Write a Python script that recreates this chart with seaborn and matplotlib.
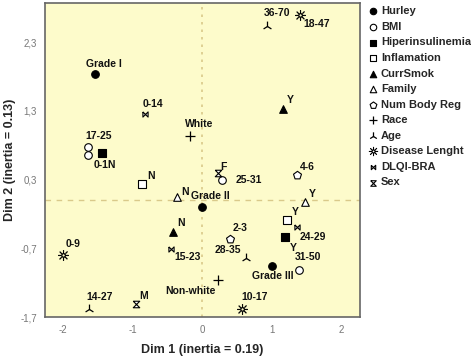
import matplotlib
matplotlib.use('Agg')
import matplotlib.pyplot as plt
import seaborn as sns
import numpy as np
import pandas as pd
from matplotlib.path import Path

# coordenadas de cada categoría (Dim 1, Dim 2) y su rótulo
hurley_x = [-1.54, 0.00, 1.01]
hurley_y = [1.84, -0.10, -0.96]
hurley_lab = ['Grade I', 'Grade II', 'Grade III']

bmi_x = [-1.65, -1.64, 0.29, 1.40]
bmi_y = [0.77, 0.66, 0.30, -1.01]
bmi_lab = ['17-25', '', '25-31', '31-50']

hiper_x = [-1.44, 1.19]
hiper_y = [0.69, -0.53]
hiper_lab = ['0-1N', 'Y']

infl_x = [-0.86, 1.22]
infl_y = [0.23, -0.29]
infl_lab = ['N', 'Y']

smok_x = [-0.42, 1.17]
smok_y = [-0.46, 1.33]
smok_lab = ['N', 'Y']

fam_x = [-0.36, 1.48]
fam_y = [0.04, -0.03]
fam_lab = ['N', 'Y']

body_x = [1.37, 0.40]
body_y = [0.36, -0.57]
body_lab = ['4-6', '2-3']

race_x = [-0.17, 0.23]
race_y = [0.93, -1.16]
race_lab = ['White', 'Non-white']

age_x = [0.94, -1.63, 0.63]
age_y = [2.54, -1.59, -0.84]
age_lab = ['36-70', '14-27', '28-35']

dis_x = [1.41, -2.00, 0.58]
dis_y = [2.70, -0.80, -1.59]
dis_lab = ['18-47', '0-9', '10-17']

dlqi_x = [-0.83, -0.45, 1.37]
dlqi_y = [1.26, -0.71, -0.39]
dlqi_lab = ['0-14', '15-23', '24-29']

sex_x = [0.23, -0.96]
sex_y = [0.40, -1.51]
sex_lab = ['F', 'M']

# marcadores propios
hourglass = Path([(-1, 1), (1, 1), (-1, -1), (1, -1), (-1, 1)])
bowtie = Path([(-1, 1), (-1, -1), (1, 1), (1, -1), (-1, 1)])

groups = [
    ('Hurley', hurley_x, hurley_y, hurley_lab, 'o', 'black', 30),
    ('BMI', bmi_x, bmi_y, bmi_lab, 'o', 'white', 30),
    ('Hiperinsulinemia', hiper_x, hiper_y, hiper_lab, 's', 'black', 30),
    ('Inflamation', infl_x, infl_y, infl_lab, 's', 'white', 30),
    ('CurrSmok', smok_x, smok_y, smok_lab, '^', 'black', 30),
    ('Family', fam_x, fam_y, fam_lab, '^', 'white', 30),
    ('Num Body Reg', body_x, body_y, body_lab, 'p', 'white', 36),
    ('Race', race_x, race_y, race_lab, '+', 'black', 50),
    ('Age', age_x, age_y, age_lab, '2', 'black', 50),
    ('Disease Lenght', dis_x, dis_y, dis_lab, '$☼$', 'black', 55),
    ('DLQI-BRA', dlqi_x, dlqi_y, dlqi_lab, bowtie, 'white', 14),
    ('Sex', sex_x, sex_y, sex_lab, hourglass, 'white', 22),
]

# desplazamientos de rótulos (puntos), en el orden de cada lista
offsets = {
    'Hurley': [(6, 7), (6, 8), (0, -7)],
    'BMI': [(8, 8), None, (19, 0), (6, 9)],
    'Hiperinsulinemia': [(2, -9), (6, -8)],
    'Inflamation': [(6, 6), (6, 6)],
    'CurrSmok': [(6, 6), (5, 6)],
    'Family': [(6, 4), (5, 6)],
    'Num Body Reg': [(7, 6), (7, 8)],
    'Race': [(6, 9), (-20, -8)],
    'Age': [(7, 9), (8, 9), (-13, 6)],
    'Disease Lenght': [(12, -7), (7, 8), (9, 9)],
    'DLQI-BRA': [(6, 7), (12, -6), (11, -7)],
    'Sex': [(4, 4), (6, 6)],
}

sns.set_theme(style='white')
plt.rcParams['font.family'] = ['Liberation Sans', 'DejaVu Sans']
plt.rcParams['axes.unicode_minus'] = False

fig = plt.figure(figsize=(4.71, 3.57), dpi=100, facecolor='white')
ax = fig.add_axes([0.096, 0.112, 0.668, 0.880])
ax.set_facecolor('#fdfbcb')

lab_font = dict(fontsize=7.5, fontweight='bold', color='#111111')
handles = []
for name, xs, ys, labs, mk, fc, sz in groups:
    df = pd.DataFrame({'x': xs, 'y': ys})
    if mk in ('+', '2'):
        sns.scatterplot(data=df, x='x', y='y', marker=mk, color='black', s=sz,
                        linewidth=0.9, ax=ax, legend=False)
    elif isinstance(mk, str) and mk.startswith('$'):
        sns.scatterplot(data=df, x='x', y='y', marker=mk, color='black',
                        edgecolor='black', s=sz, linewidth=0.4, ax=ax, legend=False)
    else:
        sns.scatterplot(data=df, x='x', y='y', marker=mk, facecolor=fc,
                        edgecolor='black', s=sz, linewidth=0.8, ax=ax, legend=False)
    handles.append(ax.collections[-1])
    for x, y, lab, off in zip(xs, ys, labs, offsets[name]):
        if not lab:
            continue
        ax.annotate(lab, (x, y), xytext=off, textcoords='offset points',
                    ha='center', va='center', **lab_font)

ax.axhline(0, color='#d9c98a', ls=(0, (4, 4)), lw=1, zorder=0)
ax.axvline(0, color='#d9c98a', ls=(0, (1.5, 3)), lw=1.2, zorder=0)

ax.set_xlim(-2.26, 2.27)
ax.set_ylim(-1.68, 2.87)
ax.set_xticks([-2, -1, 0, 1, 2])
ax.set_yticks([2.3, 1.3, 0.3, -0.7, -1.7])
ax.set_yticklabels(['2,3', '1,3', '0,3', '-0,7', '-1,7'])
ax.tick_params(labelsize=7, colors='#777777', length=0, pad=6)
for sp in ax.spines.values():
    sp.set_color('#666666')
    sp.set_linewidth(1.2)

ax.set_xlabel('Dim 1 (inertia = 0.19)', fontsize=9, fontweight='bold', labelpad=6)
ax.set_ylabel('Dim 2 (inertia = 0.13)', fontsize=9, fontweight='bold', labelpad=3)

leg = ax.legend(handles, [g[0] for g in groups], loc='upper left',
                bbox_to_anchor=(1.0, 1.01), frameon=False, handletextpad=0.1,
                labelspacing=0.5, borderaxespad=0.2, handlelength=1.2,
                markerscale=0.85, prop={'size': 8, 'weight': 'bold'})

fig.savefig('out.png', dpi=100)
